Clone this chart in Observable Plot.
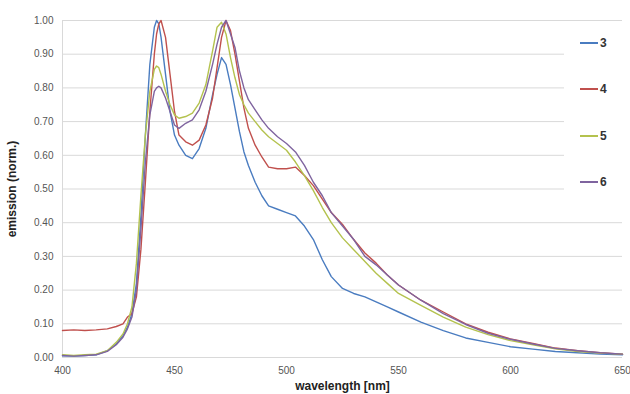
<!DOCTYPE html>
<html><head><meta charset="utf-8">
<script src="https://cdn.jsdelivr.net/npm/d3@7"></script>
<script src="https://cdn.jsdelivr.net/npm/@observablehq/plot@0.6"></script>
<style>
body{margin:0;background:#fff;font-family:"Liberation Sans",Arial,sans-serif;}
#wrap{position:relative;width:630px;height:394px;}
#legend{position:absolute;left:564px;top:28px;width:58px;height:172px;background:#fff;}
.item{position:absolute;left:16px;height:14px;display:flex;align-items:center;font-weight:bold;font-size:12px;color:#333;}
.item .sw{display:inline-block;width:18px;height:2px;margin-right:2px;}
g[aria-label="x-axis label"] text, g[aria-label="y-axis label"] text{font-weight:bold;fill:#222;font-size:12px;}
</style></head>
<body><div id="wrap"><div id="chart"></div><div id="legend"></div></div>
<script>
const series = ["3", "4", "5", "6"];
const colors = ["#4a7cc0", "#c0504d", "#b4c24e", "#7f649f"];
const xTicks = [400, 450, 500, 550, 600, 650];
const yTicks = [0, 0.1, 0.2, 0.3, 0.4, 0.5, 0.6, 0.7, 0.8, 0.9, 1.0];
const wl = [400,405,410,415,420,424,427,429,431,433,435,437,439,441,442,443,444,446,448,450,452,455,458,461,464,467,469,471,473,475,477,479,481,483,486,489,492,496,500,504,508,512,516,520,525,530,535,540,545,550,560,570,580,590,600,610,620,630,640,650];
const em3 = [0.005,0.004,0.006,0.008,0.02,0.04,0.065,0.09,0.13,0.22,0.42,0.66,0.87,0.98,1.00,0.99,0.95,0.84,0.73,0.66,0.63,0.60,0.59,0.62,0.68,0.78,0.84,0.89,0.87,0.81,0.74,0.67,0.61,0.57,0.52,0.48,0.45,0.44,0.43,0.42,0.39,0.35,0.29,0.24,0.205,0.19,0.18,0.165,0.15,0.135,0.105,0.08,0.058,0.045,0.032,0.025,0.018,0.014,0.01,0.008];
const em4 = [0.08,0.082,0.08,0.082,0.085,0.092,0.10,0.12,0.13,0.18,0.32,0.52,0.73,0.90,0.96,0.99,1.00,0.95,0.84,0.73,0.66,0.64,0.63,0.645,0.69,0.77,0.86,0.95,1.00,0.97,0.90,0.82,0.74,0.68,0.63,0.595,0.565,0.56,0.56,0.565,0.54,0.51,0.47,0.43,0.395,0.35,0.31,0.28,0.245,0.215,0.17,0.135,0.10,0.075,0.055,0.042,0.028,0.02,0.014,0.01];
const em5 = [0.008,0.006,0.008,0.01,0.02,0.045,0.07,0.10,0.15,0.28,0.48,0.66,0.79,0.855,0.865,0.86,0.84,0.79,0.75,0.72,0.71,0.715,0.725,0.755,0.81,0.91,0.98,0.995,0.96,0.89,0.83,0.78,0.75,0.725,0.70,0.675,0.655,0.635,0.615,0.58,0.54,0.495,0.445,0.40,0.355,0.32,0.285,0.25,0.22,0.19,0.155,0.12,0.09,0.068,0.05,0.038,0.026,0.018,0.013,0.01];
const em6 = [0.006,0.004,0.006,0.008,0.018,0.038,0.06,0.085,0.12,0.20,0.38,0.58,0.72,0.79,0.80,0.805,0.80,0.77,0.73,0.69,0.68,0.695,0.705,0.735,0.79,0.87,0.93,0.98,1.00,0.96,0.92,0.85,0.80,0.765,0.735,0.705,0.68,0.655,0.635,0.61,0.57,0.52,0.48,0.43,0.39,0.35,0.30,0.275,0.245,0.215,0.17,0.13,0.098,0.072,0.054,0.04,0.027,0.02,0.014,0.01];

const values = [em3, em4, em5, em6];
const data = [];
series.forEach((s, i) => wl.forEach((w, j) => data.push({wl: w, em: values[i][j], s})));

const chart = Plot.plot({
  width: 630, height: 394,
  marginLeft: 62, marginRight: 8, marginTop: 20, marginBottom: 37,
  style: {fontFamily: "'Liberation Sans', Arial, sans-serif", fontSize: "10px", color: "#555", background: "#fff"},
  x: {domain: [400, 650]},
  y: {domain: [0, 1]},
  color: {domain: series, range: colors},
  marks: [
    Plot.gridY(yTicks, {stroke: "#d9d9d9", strokeOpacity: 1}),
    Plot.ruleX([400], {stroke: "#d9d9d9"}),
    Plot.axisY(yTicks, {tickSize: 0, tickPadding: 9, tickFormat: d3.format(".2f"), label: "emission (norm.)", labelAnchor: "center", labelArrow: false, labelOffset: 55, fill: "#555"}),
    Plot.axisX(xTicks, {tickSize: 0, tickPadding: 9, label: "wavelength [nm]", labelAnchor: "center", labelArrow: false, labelOffset: 32, fill: "#555"}),
    Plot.line(data, {x: "wl", y: "em", z: "s", stroke: "s", strokeWidth: 1.4})
  ]
});
document.getElementById("chart").appendChild(chart);

const legend = document.getElementById("legend");
series.forEach((s, i) => {
  const d = document.createElement("div");
  d.className = "item";
  d.style.top = (8 + i * 46.3) + "px";
  d.innerHTML = `<span class="sw" style="background:${colors[i]}"></span>${s}`;
  legend.appendChild(d);
});
</script></body></html>
